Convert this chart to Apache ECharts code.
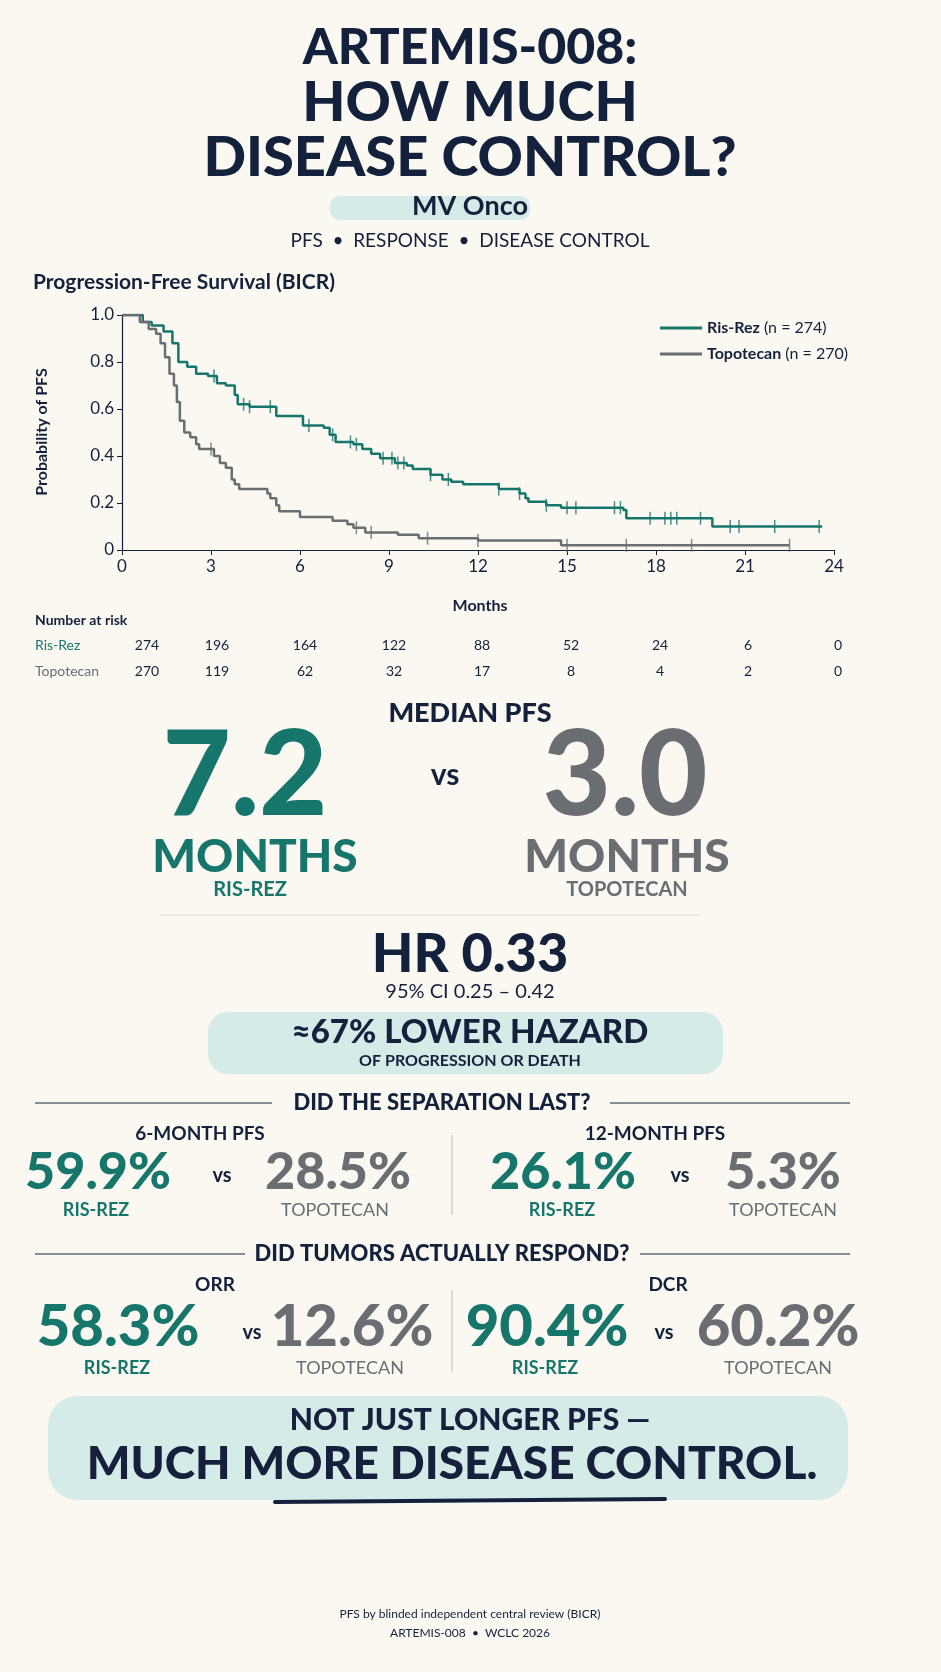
<!DOCTYPE html>
<html><head><meta charset="utf-8">
<script src="https://cdn.jsdelivr.net/npm/echarts@6/dist/echarts.min.js"></script>
<style>html,body{margin:0;padding:0;background:#faf8f1}#c{width:941px;height:1672px}</style>
</head><body><div id="c"></div>
<script>
const risRezKM = [[0,1],[0.7,0.97],[1.0,0.955],[1.4,0.93],[1.7,0.88],[1.9,0.80],[2.2,0.78],[2.5,0.75],[2.9,0.74],[3.2,0.71],[3.5,0.70],[3.8,0.66],[3.9,0.62],[4.3,0.61],[5.2,0.57],[6.1,0.53],[6.8,0.52],[7.0,0.49],[7.2,0.46],[7.8,0.45],[8.1,0.43],[8.4,0.41],[8.7,0.39],[9.2,0.37],[9.6,0.36],[9.8,0.345],[10.4,0.32],[10.8,0.30],[11.1,0.29],[11.5,0.28],[12.7,0.26],[13.4,0.24],[13.6,0.22],[13.7,0.205],[14.3,0.19],[14.8,0.18],[16.9,0.17],[17.0,0.135],[19.9,0.10],[23.6,0.10]];
const topoKM = [[0,1],[0.6,0.97],[0.9,0.94],[1.15,0.92],[1.3,0.88],[1.45,0.82],[1.6,0.75],[1.75,0.70],[1.85,0.63],[1.95,0.55],[2.1,0.50],[2.3,0.48],[2.5,0.45],[2.6,0.43],[3.1,0.40],[3.3,0.37],[3.5,0.35],[3.7,0.30],[3.8,0.28],[3.95,0.26],[4.9,0.24],[5.0,0.22],[5.2,0.19],[5.3,0.165],[6.0,0.14],[7.1,0.125],[7.6,0.11],[7.8,0.095],[8.2,0.075],[9.3,0.065],[10.0,0.05],[12.0,0.04],[14.8,0.02],[22.5,0.02]];
const risRezCensor = [3.1,4.1,4.3,5.0,6.3,7.1,7.7,7.9,8.8,9.1,9.3,9.5,10.4,11.0,12.7,13.4,14.3,15.0,15.3,16.6,16.8,17.8,18.3,18.5,18.7,19.5,20.5,20.8,22.0,23.5];
const topoCensor = [3.0,7.9,8.4,10.3,12.0,15.0,17.0,19.2,22.5];
const months = [0,3,6,9,12,15,18,21,24];
const atRiskRis = [274,196,164,122,88,52,24,6,0];
const atRiskTopo = [270,119,62,32,17,8,4,2,0];

const TEAL='#17766c', GREY='#6a6d72', NAVY='#14213d', LT='#d4ebe7';
function surv(km,t){let s=1;for(const p of km){if(p[0]<=t)s=p[1];}return s;}
const chart = echarts.init(document.getElementById('c'));
const CX=470;
const H='Lato';
const T=(x,y,text,size,color,weight,extra)=>({type:'text',x,y,style:Object.assign({text,fontSize:size,fill:color||NAVY,fontWeight:weight||'normal',fontFamily:H,align:'center',verticalAlign:'middle'},extra||{})});
const g=[];
g.push({type:'rect',shape:{x:330,y:196,width:200,height:24,r:10},style:{fill:LT}});
g.push({type:'rect',shape:{x:208,y:1012,width:515,height:62,r:20},style:{fill:LT}});
g.push({type:'rect',shape:{x:48,y:1396,width:800,height:104,r:30},style:{fill:LT}});
g.push({type:'line',shape:{x1:275,y1:1502,x2:665,y2:1499},style:{stroke:NAVY,lineWidth:4,lineCap:'round'}});
g.push(T(CX,48,'ARTEMIS-008:',50,NAVY,900));
g.push(T(CX,103,'HOW MUCH',56,NAVY,900));
g.push(T(CX,158,'DISEASE CONTROL?',56,NAVY,900));
g.push(T(CX,206,'MV Onco',27,NAVY,'bold'));
g.push(T(CX,241,'PFS  •  RESPONSE  •  DISEASE CONTROL',19,NAVY,'normal'));
g.push(T(33,282,'Progression-Free Survival (BICR)',21,NAVY,'bold',{align:'left'}));
g.push(T(480,606,'Months',16,NAVY,'bold'));
g.push({type:'text',x:42,y:432,rotation:Math.PI/2,style:{text:'Probability of PFS',fontSize:16,fontWeight:'bold',fill:NAVY,fontFamily:H,align:'center',verticalAlign:'middle'}});
g.push(T(35,620,'Number at risk',14,NAVY,'bold',{align:'left'}));
g.push(T(35,645,'Ris-Rez',14,TEAL,'normal',{align:'left'}));
g.push(T(35,671,'Topotecan',14,GREY,'normal',{align:'left'}));
const colX=[147,217,305,394,482,571,660,748,838];
months.forEach((m,i)=>{g.push(T(colX[i],645,String(atRiskRis[i]),14,NAVY));g.push(T(colX[i],671,String(atRiskTopo[i]),14,NAVY));});
g.push(T(CX,713,'MEDIAN PFS',27,NAVY,900));
g.push(T(245,777,'7.2',118,TEAL,900));
g.push(T(255,857,'MONTHS',46,TEAL,900));
g.push(T(250,890,'RIS-REZ',20,TEAL,'bold'));
g.push(T(445,775,'vs',30,NAVY,'bold'));
g.push(T(625,777,'3.0',118,GREY,900));
g.push(T(627,857,'MONTHS',46,GREY,900));
g.push(T(627,890,'TOPOTECAN',20,GREY,'bold'));
g.push({type:'line',shape:{x1:160,y1:915,x2:700,y2:915},style:{stroke:'#d8d8d4',lineWidth:1}});
g.push(T(CX,955,'HR 0.33',54,NAVY,900));
g.push(T(CX,992,'95% CI 0.25 – 0.42',20,NAVY));
g.push(T(CX,1032,'≈67% LOWER HAZARD',33,NAVY,900));
g.push(T(CX,1061,'OF PROGRESSION OR DEATH',16,NAVY,'bold'));
g.push({type:'line',shape:{x1:35,y1:1103,x2:272,y2:1103},style:{stroke:NAVY,lineWidth:1.2}});
g.push({type:'line',shape:{x1:610,y1:1103,x2:850,y2:1103},style:{stroke:NAVY,lineWidth:1.2}});
g.push(T(442,1103,'DID THE SEPARATION LAST?',22,NAVY,900));
g.push(T(200,1134,'6-MONTH PFS',19,NAVY,'bold'));
g.push(T(655,1134,'12-MONTH PFS',19,NAVY,'bold'));
g.push(T(98,1172,'59.9%',52,TEAL,900));
g.push(T(222,1176,'vs',20,NAVY,'bold'));
g.push(T(338,1172,'28.5%',52,GREY,900));
g.push(T(96,1210,'RIS-REZ',18,TEAL,'bold'));
g.push(T(335,1210,'TOPOTECAN',18,GREY,'normal'));
g.push({type:'line',shape:{x1:452,y1:1135,x2:452,y2:1215},style:{stroke:'#cfcfcf',lineWidth:1.5}});
g.push(T(563,1172,'26.1%',52,TEAL,900));
g.push(T(680,1176,'vs',20,NAVY,'bold'));
g.push(T(783,1172,'5.3%',52,GREY,900));
g.push(T(562,1210,'RIS-REZ',18,TEAL,'bold'));
g.push(T(783,1210,'TOPOTECAN',18,GREY,'normal'));
g.push({type:'line',shape:{x1:35,y1:1254,x2:245,y2:1254},style:{stroke:NAVY,lineWidth:1.2}});
g.push({type:'line',shape:{x1:640,y1:1254,x2:850,y2:1254},style:{stroke:NAVY,lineWidth:1.2}});
g.push(T(442,1254,'DID TUMORS ACTUALLY RESPOND?',22,NAVY,900));
g.push(T(215,1285,'ORR',19,NAVY,'bold'));
g.push(T(668,1285,'DCR',19,NAVY,'bold'));
g.push(T(118,1327,'58.3%',58,TEAL,900));
g.push(T(252,1333,'vs',20,NAVY,'bold'));
g.push(T(352,1327,'12.6%',58,GREY,900));
g.push(T(117,1368,'RIS-REZ',18,TEAL,'bold'));
g.push(T(350,1368,'TOPOTECAN',18,GREY,'normal'));
g.push({type:'line',shape:{x1:452,y1:1290,x2:452,y2:1372},style:{stroke:'#cfcfcf',lineWidth:1.5}});
g.push(T(547,1327,'90.4%',58,TEAL,900));
g.push(T(664,1333,'vs',20,NAVY,'bold'));
g.push(T(778,1327,'60.2%',58,GREY,900));
g.push(T(545,1368,'RIS-REZ',18,TEAL,'bold'));
g.push(T(778,1368,'TOPOTECAN',18,GREY,'normal'));
g.push(T(CX,1420,'NOT JUST LONGER PFS —',30,NAVY,900));
g.push(T(452,1464,'MUCH MORE DISEASE CONTROL.',46,NAVY,900));
g.push(T(CX,1614,'PFS by blinded independent central review (BICR)',12,NAVY));
g.push(T(CX,1633,'ARTEMIS-008  •  WCLC 2026',12,NAVY));

chart.setOption({
  backgroundColor:'#faf8f1',
  animation:false,
  textStyle:{fontFamily:H},
  grid:{left:122,right:107,top:315,height:235},
  legend:{orient:'vertical',right:88,top:315,itemWidth:42,itemHeight:3,itemGap:10,icon:'rect',
    data:['Ris-Rez','Topotecan'],
    formatter:n=> n==='Ris-Rez' ? '{b|Ris-Rez} (n = 274)' : '{b|Topotecan} (n = 270)',
    textStyle:{fontSize:16,color:NAVY,rich:{b:{fontSize:16,fontWeight:'bold',color:NAVY}}}},
  xAxis:{type:'value',min:0,max:24,interval:3,axisLine:{lineStyle:{color:NAVY,width:1.2}},axisTick:{show:true,lineStyle:{color:NAVY}},splitLine:{show:false},axisLabel:{fontSize:17,color:NAVY}},
  yAxis:{type:'value',min:0,max:1,interval:0.2,axisLine:{show:true,lineStyle:{color:NAVY,width:1.2}},axisTick:{show:true,lineStyle:{color:NAVY}},splitLine:{show:false},
    axisLabel:{fontSize:17,color:NAVY,formatter:v=> v===0?'0':v.toFixed(1)}},
  series:[
    {name:'Ris-Rez',type:'line',step:'end',data:risRezKM,symbol:'none',lineStyle:{color:TEAL,width:2.5},itemStyle:{color:TEAL}},
    {name:'Topotecan',type:'line',step:'end',data:topoKM,symbol:'none',lineStyle:{color:GREY,width:2.5},itemStyle:{color:GREY}},
    {name:'RisCens',type:'scatter',data:risRezCensor.map(t=>[t,surv(risRezKM,t)]),symbol:'rect',symbolSize:[1.5,13],itemStyle:{color:TEAL}},
    {name:'TopoCens',type:'scatter',data:topoCensor.map(t=>[t,surv(topoKM,t)]),symbol:'rect',symbolSize:[1.5,13],itemStyle:{color:GREY}}
  ],
  graphic:g
});
</script></body></html>
